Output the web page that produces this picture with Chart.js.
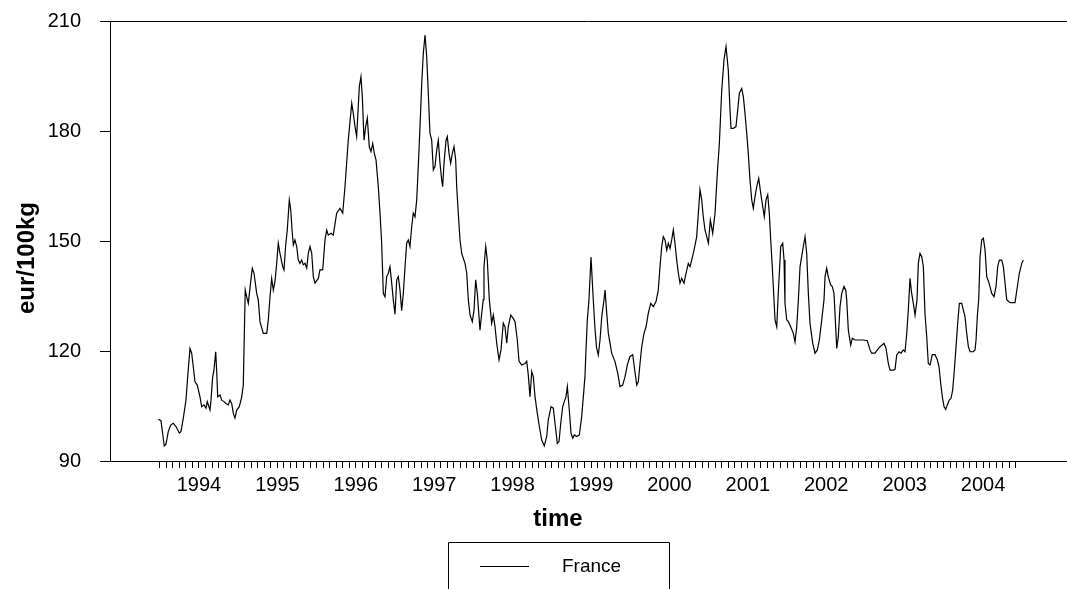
<!DOCTYPE html>
<html><head><meta charset="utf-8">
<script src="https://cdn.jsdelivr.net/npm/chart.js@4"></script>
<style>html,body{margin:0;padding:0;background:#fff;overflow:hidden}#wrap{width:1067px;height:589px;position:relative}</style>
</head><body><div id="wrap"><canvas id="c" width="1067" height="589"></canvas></div>
<script>
const seriesName = 'France';
const xTitle = 'time';
const yTitle = 'eur/100kg';
const yTicks = [90, 120, 150, 180, 210];
const yearLabels = [1994, 1995, 1996, 1997, 1998, 1999, 2000, 2001, 2002, 2003, 2004];
const firstMonthTick = 1993.5;   // July 1993
const monthTickCount = 132;      // through June 2004

const times = [
1993.481,1993.515,1993.557,1993.579,1993.608,1993.639,1993.672,1993.707,1993.749,1993.770,1993.800,1993.834,1993.856,1993.885,1993.907,1993.927,1993.949,1993.978,
1994.013,1994.034,1994.064,1994.089,1994.106,1994.140,1994.153,1994.175,1994.191,1994.213,1994.226,1994.239,1994.268,1994.290,1994.319,1994.344,1994.374,1994.395,1994.417,1994.438,1994.459,1994.481,1994.514,1994.545,1994.565,1994.578,1994.590,1994.608,1994.629,1994.660,1994.680,1994.702,1994.736,1994.756,1994.778,1994.820,1994.864,1994.884,1994.906,1994.927,1994.948,1994.969,1994.991,
1995.011,1995.033,1995.068,1995.084,1995.106,1995.126,1995.152,1995.170,1995.190,1995.203,1995.224,1995.246,1995.267,1995.288,1995.310,1995.330,1995.352,1995.374,1995.394,1995.416,1995.438,1995.458,1995.480,1995.522,1995.543,1995.578,1995.607,1995.629,1995.649,1995.684,1995.713,1995.756,1995.798,1995.833,1995.862,1995.904,1995.948,1995.968,1995.990,
1996.011,1996.045,1996.066,1996.083,1996.105,1996.126,1996.147,1996.172,1996.194,1996.216,1996.236,1996.258,1996.287,1996.309,1996.330,1996.351,1996.372,1996.394,1996.415,1996.436,1996.458,1996.478,1996.500,1996.522,1996.542,1996.564,1996.585,1996.606,1996.628,1996.649,1996.670,1996.691,1996.713,1996.733,1996.755,1996.777,1996.797,1996.819,1996.841,1996.861,1996.883,1996.904,1996.925,1996.946,1996.968,1996.989,
1997.010,1997.032,1997.052,1997.074,1997.096,1997.108,1997.125,1997.151,1997.167,1997.189,1997.210,1997.231,1997.253,1997.274,1997.287,1997.307,1997.329,1997.351,1997.371,1997.393,1997.415,1997.435,1997.457,1997.486,1997.508,1997.529,1997.550,1997.562,1997.584,1997.606,1997.626,1997.635,1997.657,1997.677,1997.703,1997.733,1997.754,1997.776,1997.797,1997.827,1997.852,1997.881,1997.903,1997.925,1997.945,1997.976,
1998.009,1998.031,1998.060,1998.082,1998.116,1998.158,1998.180,1998.200,1998.222,1998.244,1998.264,1998.286,1998.315,1998.341,1998.371,1998.404,1998.435,1998.455,1998.490,1998.519,1998.541,1998.570,1998.592,1998.614,1998.639,1998.659,1998.681,1998.698,1998.723,1998.745,1998.767,1998.787,1998.818,1998.851,1998.881,1998.902,1998.923,1998.936,1998.953,1998.974,
1999.000,1999.029,1999.051,1999.070,1999.093,1999.115,1999.137,1999.166,1999.179,1999.198,1999.221,1999.264,1999.306,1999.341,1999.370,1999.404,1999.434,1999.463,1999.497,1999.532,1999.552,1999.583,1999.603,1999.625,1999.647,1999.676,1999.702,1999.731,1999.762,1999.795,1999.829,1999.858,1999.880,1999.902,1999.922,1999.944,1999.966,1999.986,
2000.008,2000.029,2000.050,2000.071,2000.093,2000.114,2000.135,2000.157,2000.186,2000.212,2000.241,2000.263,2000.284,2000.314,2000.348,2000.369,2000.390,2000.412,2000.432,2000.454,2000.476,2000.497,2000.522,2000.552,2000.582,2000.611,2000.637,2000.667,2000.696,2000.722,2000.751,2000.773,2000.786,2000.815,2000.849,2000.871,2000.892,2000.922,2000.943,2000.964,2000.986,
2001.006,2001.028,2001.050,2001.070,2001.092,2001.114,2001.139,2001.165,2001.190,2001.210,2001.232,2001.254,2001.274,2001.292,2001.312,2001.334,2001.347,2001.369,2001.389,2001.420,2001.445,2001.462,2001.474,2001.496,2001.517,2001.547,2001.580,2001.602,2001.624,2001.645,2001.666,2001.708,2001.730,2001.751,2001.772,2001.793,2001.828,2001.857,2001.887,2001.912,2001.943,2001.972,2001.985,
2002.006,2002.026,2002.057,2002.077,2002.099,2002.112,2002.134,2002.154,2002.176,2002.198,2002.227,2002.249,2002.261,2002.282,2002.312,2002.333,2002.367,2002.409,2002.473,2002.524,2002.559,2002.580,2002.622,2002.652,2002.686,2002.716,2002.737,2002.763,2002.792,2002.814,2002.856,2002.878,2002.899,2002.929,2002.954,2002.983,
2003.005,2003.027,2003.047,2003.069,2003.088,2003.111,2003.133,2003.158,2003.175,2003.196,2003.218,2003.239,2003.260,2003.282,2003.302,2003.324,2003.353,2003.388,2003.417,2003.439,2003.460,2003.481,2003.503,2003.524,2003.545,2003.570,2003.592,2003.613,2003.634,2003.656,2003.677,2003.698,2003.728,2003.770,2003.792,2003.813,2003.834,2003.876,2003.898,2003.911,2003.927,2003.945,2003.962,2003.983,
2004.004,2004.026,2004.047,2004.077,2004.111,2004.140,2004.166,2004.187,2004.208,2004.238,2004.259,2004.281,2004.302,2004.344,2004.408,2004.438,2004.463,2004.494,2004.514
];

const prices = [
101.4,101,94.1,94.6,98,99.8,100.3,99.4,97.6,98,101.7,106.6,113,120.7,119.4,115.7,111.6,110.7,
107.5,104.8,105.3,104.4,106.2,103.9,106.6,113,114.8,119.8,114.4,107.5,108,106.6,106.2,105.7,105.3,106.6,105.7,103,101.7,103.9,104.8,107.5,110.7,124.4,136.6,134.8,133,139,142.6,141.2,135.7,134,128,124.8,124.8,128.5,134.8,139.8,136.6,138.9,143.9,
149.4,146.6,143,142.1,148.9,153,161.2,158.5,152.1,148.9,150.3,148.5,144.8,143.9,144.8,143.5,143.9,142.6,146.6,148.5,146.6,140.3,138.5,139.8,142.1,142.1,150.3,153,151.6,152.1,151.6,157.6,158.9,157.6,164.8,177.5,187.6,184.8,181.2,
178.5,192.1,194.8,189.4,177.5,181.2,183.5,175.7,174.4,176.6,173.9,172.1,164.8,157.6,149.4,135.7,134.8,140.3,141.2,143,138.5,134,130,139.4,140.3,136.6,131,135.7,143,149.4,150.3,148.5,153.9,157.6,156.6,161.2,170.3,181.2,193,201.2,206.2,200.3,190.3,179.4,177.5,169.4,
170.3,174.8,177.5,171.2,166.6,164.8,171.2,177.5,178.5,173.9,171.2,173.9,175.7,172.1,164.8,157.6,150.3,146.6,145.3,143.9,141.2,134,129.8,128,131.2,139.4,135.7,132.1,125.7,130.3,134,143,148.5,144.8,134,127.6,129.8,126.6,122.1,117.6,120.3,127.6,126.6,122.1,126.6,129.8,
128.9,128,123,117.2,116.2,116.6,117.2,113.5,107.5,114.4,113,107.5,103,99.4,95.7,94.1,96.7,101.2,104.8,104.4,100.3,94.8,95.3,100.3,104.8,106.2,107.5,110.3,103.9,97.6,96.2,97.1,96.7,97.1,102.1,107.5,113,120.3,128.5,134,
145.6,134,126,121,118.9,123,129.4,134,136.6,131,124.8,119.4,117.1,113.9,110.3,110.7,113,116.2,118.5,119,115.7,110.7,111.6,116.6,121.2,124.8,126.6,130.3,133,132.1,133.5,136.6,143,148.5,151.2,150.3,147.5,149.4,
148,150.3,153,149.4,144.8,141.2,138.5,139.8,138.5,141.2,143.9,143,144.8,147.5,151.2,157.6,164,161.2,156.6,153,151.2,149.4,155.7,152.1,157.6,168.5,176.6,191,199.4,203,196.6,185.7,180.7,180.7,181.2,185.7,190.3,191.6,189.4,184.8,179.4,
173.9,166.6,161.2,158.9,162.1,164.8,167.1,163,159.4,156.6,161.2,162.6,157.6,150.3,143,134,128.5,126.6,136,148.5,149.4,144.8,133,128.5,128,126.6,124.8,122.5,126.6,134,143,148.5,151.2,146.6,135.7,127.6,122.1,119.4,120.3,123,128.5,134,140.3,
142.6,140.3,138,137.6,135.7,130.3,120.7,123.9,132.1,135.7,137.6,136.6,134,125.7,121.6,123.5,123,123,123,122.8,120.3,119.4,119.4,120.3,121.2,121.7,122.1,120.7,116.6,114.8,114.8,115,118.9,119.8,119.4,120.3,
119.8,124.8,131.2,139.8,136,133,129.8,134,143.9,146.6,145.7,143,130,123.9,116.6,116.2,119,119,117.6,115.7,111.2,107.5,104.8,104.1,105.3,106.6,107.1,109.4,114.8,121.2,127.6,133,133,129.4,124.8,121.2,119.8,119.8,120.3,123,129.4,134,145.7,150.3,
150.8,147.5,140.3,138.5,135.7,134.8,137.6,143,144.8,144.8,143,138.5,134,133.2,133.2,137.6,141.2,143.9,144.8
];

const FONT = "'Liberation Sans', Arial, sans-serif";

const decorPlugin = {
  id: 'decor',
  afterDraw(chart) {
    const ctx = chart.ctx, a = chart.chartArea;
    ctx.save();
    // top frame line
    ctx.strokeStyle = '#000';
    ctx.lineWidth = 1;
    ctx.beginPath();
    ctx.moveTo(a.left, Math.round(a.top) + 0.5);
    ctx.lineTo(chart.width, Math.round(a.top) + 0.5);
    ctx.stroke();
    // axis titles
    ctx.fillStyle = '#000';
    ctx.font = 'bold 24px ' + FONT;
    ctx.textAlign = 'center';
    ctx.textBaseline = 'middle';
    ctx.fillText(xTitle, 558, 519);
    ctx.save();
    ctx.translate(27, 258);
    ctx.rotate(-Math.PI / 2);
    ctx.fillText(yTitle, 0, 0);
    ctx.restore();
    // legend box
    ctx.strokeStyle = '#000';
    ctx.beginPath();
    ctx.rect(448.5, 542.5, 221, 60);
    ctx.stroke();
    ctx.beginPath();
    ctx.moveTo(480, 566.5);
    ctx.lineTo(529, 566.5);
    ctx.stroke();
    ctx.font = '19px ' + FONT;
    ctx.textAlign = 'left';
    ctx.fillText(seriesName, 562, 567);
    ctx.restore();
  }
};

function noPad(s) { s.paddingTop = 0; s.paddingBottom = 0; s.paddingLeft = 0; s.paddingRight = 0; }

new Chart(document.getElementById('c'), {
  type: 'line',
  data: {
    datasets: [{
      label: seriesName,
      data: times.map((t, i) => ({ x: t, y: prices[i] })),
      borderColor: '#000',
      borderWidth: 1.2,
      pointRadius: 0,
      tension: 0,
      fill: false
    }]
  },
  options: {
    responsive: false,
    animation: false,
    devicePixelRatio: 1,
    layout: { padding: { top: 21, left: 0, right: 0, bottom: 0 } },
    plugins: { legend: { display: false }, tooltip: { enabled: false } },
    scales: {
      x: {
        type: 'linear',
        min: 1992.865,
        max: 2005.071,
        afterBuildTicks: s => {
          const t = [];
          for (let m = 0; m < monthTickCount; m++) t.push({ value: firstMonthTick + m / 12 });
          s.ticks = t;
        },
        afterFit: s => { s.height = 128; noPad(s); },
        ticks: {
          autoSkip: false, maxRotation: 0, minRotation: 0, padding: 5,
          color: '#000', font: { family: FONT, size: 20 },
          callback: v => {
            const r = Math.round(v);
            return (Math.abs(v - r) < 1e-6 && yearLabels.includes(r)) ? String(r) : '';
          }
        },
        grid: { drawOnChartArea: false, drawTicks: true, tickLength: 7, color: '#000', lineWidth: 1 },
        border: { display: true, color: '#000', width: 1 }
      },
      y: {
        min: 90, max: 210,
        afterBuildTicks: s => { s.ticks = yTicks.map(v => ({ value: v })); },
        afterFit: s => { s.width = 110; noPad(s); },
        ticks: { padding: 19, color: '#000', font: { family: FONT, size: 20 } },
        grid: { drawOnChartArea: false, drawTicks: true, tickLength: 10, color: '#000', lineWidth: 1 },
        border: { display: true, color: '#000', width: 1 }
      }
    }
  },
  plugins: [decorPlugin]
});
</script>
</body></html>
